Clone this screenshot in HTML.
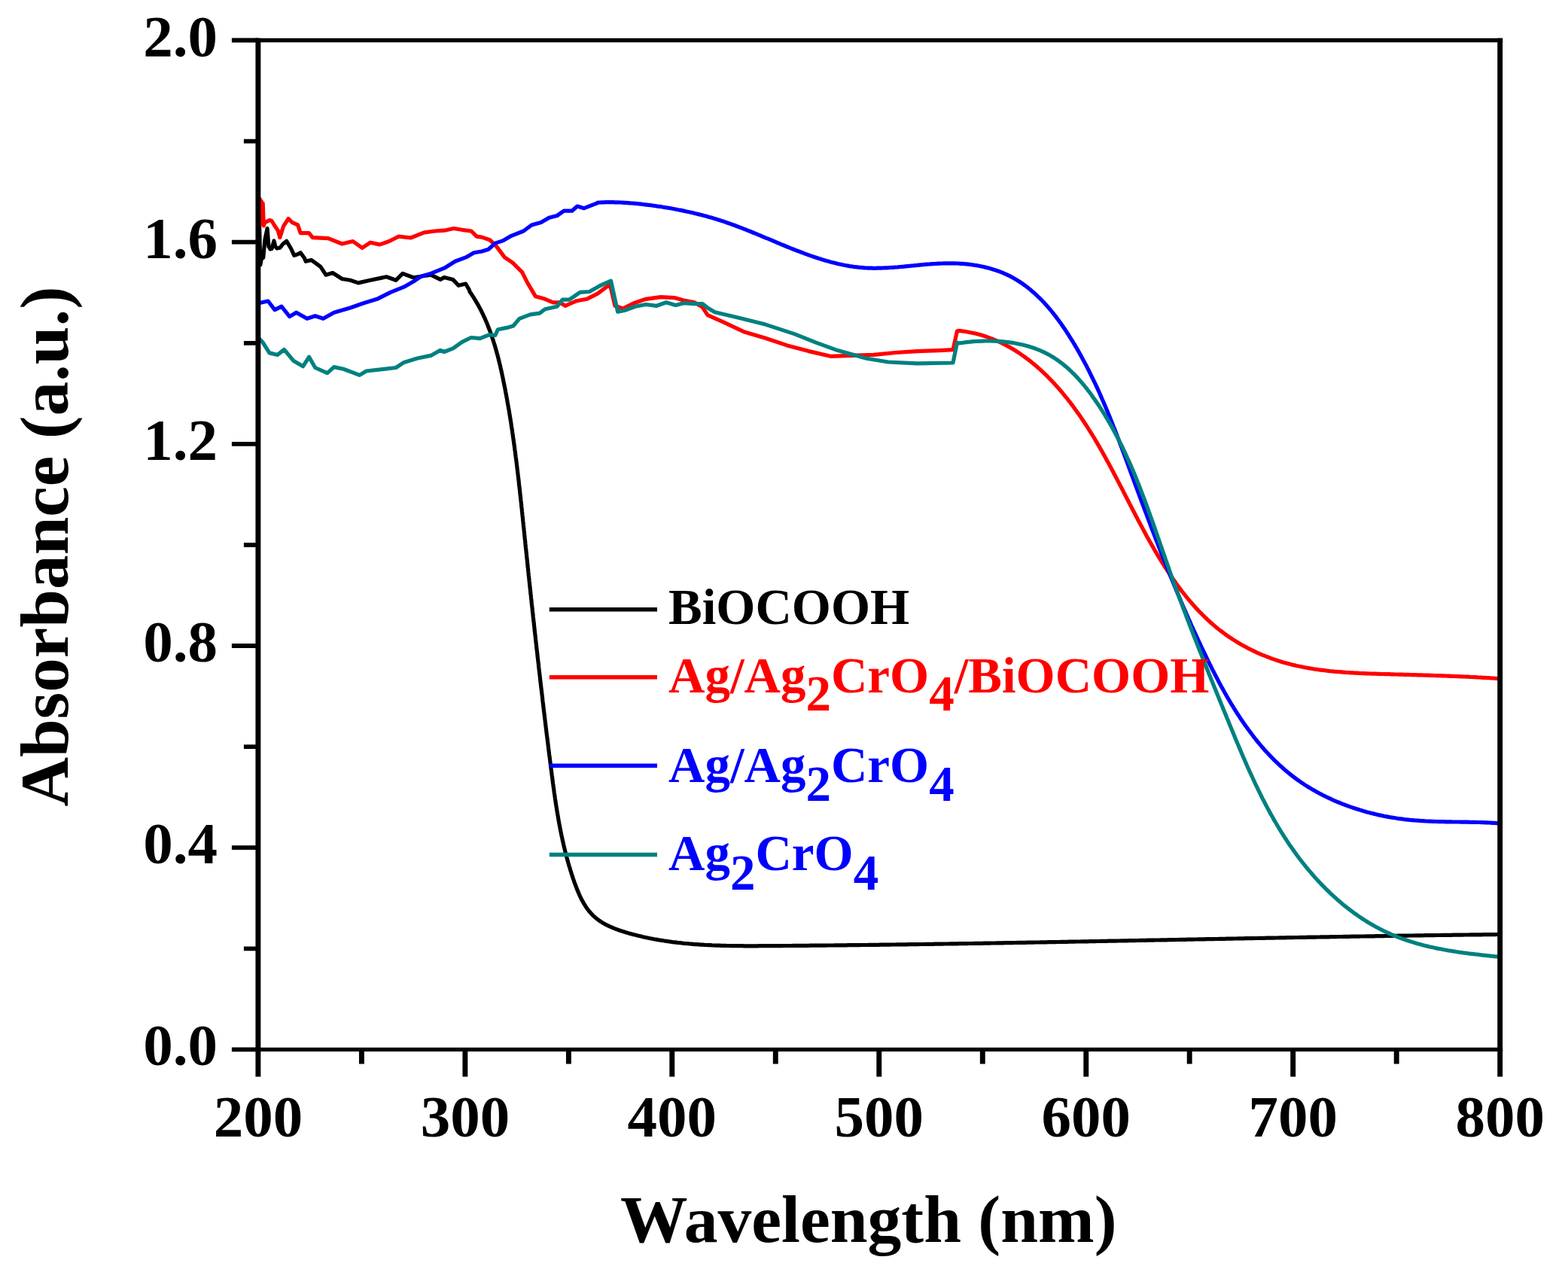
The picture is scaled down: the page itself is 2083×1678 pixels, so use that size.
<!DOCTYPE html>
<html><head><meta charset="utf-8"><title>Absorbance spectra</title>
<style>html,body{margin:0;padding:0;background:#fff;width:2083px;height:1678px;overflow:hidden}svg{display:block}.t{font-family:"Liberation Serif","Times New Roman",serif;font-weight:bold}</style>
</head><body>
<svg width="2083" height="1678" viewBox="0 0 2083 1678">
<rect width="2083" height="1678" fill="#fff"/>
<path d="M343.2,338.0 L343.6,306.0 L344.6,300.0 L345.8,352.0 L347.3,344.0 L349.7,342.4 L352.0,318.0 L355.1,303.6 L356.9,327.5 L359.0,331.0 L361.0,330.5 L364.0,320.0 L365.8,327.5 L368.0,330.0 L371.8,329.3 L376.0,324.0 L380.7,320.3 L386.7,330.5 L390.8,339.4 L395.0,338.0 L399.2,335.8 L404.5,343.0 L406.2,347.3 L413.5,345.4 L418.7,349.1 L425.8,354.4 L433.0,365.2 L441.9,362.5 L454.4,370.5 L465.2,372.3 L475.9,375.9 L492.0,372.3 L513.4,367.8 L525.9,372.3 L534.9,363.4 L549.2,368.7 L572.4,365.2 L585.0,371.4 L590.0,368.6 L601.9,371.6 L609.1,379.3 L618.6,377.0 L623.4,385.3 L624.1,387.7 L625.6,389.8 L627.0,391.9 L628.4,394.0 L629.7,396.1 L631.1,398.3 L632.4,400.5 L633.6,402.6 L634.9,404.8 L636.1,407.0 L637.3,409.2 L638.5,411.4 L639.6,413.7 L640.7,415.9 L641.8,418.2 L642.8,420.4 L643.9,422.7 L644.9,425.0 L645.9,427.3 L646.9,429.5 L647.8,431.9 L648.7,434.2 L649.6,436.5 L650.5,438.8 L651.4,441.1 L652.2,443.5 L653.0,445.8 L653.8,448.2 L654.6,450.6 L655.4,452.9 L656.1,455.3 L656.9,457.7 L657.6,460.1 L658.3,462.5 L659.0,464.9 L659.6,467.3 L660.3,469.7 L661.0,472.1 L661.6,474.5 L662.2,476.9 L662.8,479.4 L663.4,481.8 L664.0,484.2 L664.6,486.6 L665.1,489.1 L665.7,491.5 L666.2,494.0 L666.8,496.4 L667.3,498.9 L667.8,501.3 L668.3,503.8 L668.8,506.2 L669.3,508.7 L669.8,511.1 L670.3,513.6 L670.8,516.0 L671.3,518.5 L671.7,521.0 L672.2,523.4 L672.7,525.9 L673.1,528.3 L673.6,530.8 L674.0,533.3 L674.4,535.7 L674.9,538.2 L675.3,540.7 L675.7,543.1 L676.2,545.6 L676.6,548.1 L677.0,550.6 L677.4,553.0 L677.8,555.5 L678.2,558.0 L678.6,560.4 L679.0,562.9 L679.3,565.4 L679.7,567.9 L680.1,570.3 L680.5,572.8 L680.8,575.3 L681.2,577.8 L681.5,580.3 L681.9,582.7 L682.2,585.2 L682.6,587.7 L682.9,590.2 L683.3,592.7 L683.6,595.2 L683.9,597.6 L684.3,600.1 L684.6,602.6 L684.9,605.1 L685.2,607.6 L685.6,610.1 L685.9,612.5 L686.2,615.0 L686.5,617.5 L686.8,620.0 L687.1,622.5 L687.4,625.0 L687.7,627.5 L688.0,630.0 L688.3,632.5 L688.6,634.9 L688.9,637.4 L689.2,639.9 L689.4,642.4 L689.7,644.9 L690.0,647.4 L690.3,649.9 L690.6,652.4 L690.8,654.9 L691.1,657.4 L691.4,659.9 L691.7,662.4 L691.9,664.8 L692.2,667.3 L692.5,669.8 L692.7,672.3 L693.0,674.8 L693.3,677.3 L693.5,679.8 L693.8,682.3 L694.0,684.8 L694.3,687.3 L694.6,689.8 L694.8,692.3 L695.1,694.8 L695.3,697.3 L695.6,699.7 L695.9,702.2 L696.1,704.7 L696.4,707.2 L696.6,709.7 L696.9,712.2 L697.1,714.7 L697.4,717.2 L697.7,719.7 L697.9,722.2 L698.2,724.7 L698.4,727.2 L698.7,729.6 L699.0,732.1 L699.2,734.6 L699.5,737.1 L699.7,739.6 L700.0,742.1 L700.3,744.6 L700.5,747.1 L700.8,749.6 L701.0,752.1 L701.3,754.5 L701.6,757.0 L701.8,759.5 L702.1,762.0 L702.3,764.5 L702.6,767.0 L702.9,769.5 L703.1,772.0 L703.4,774.4 L703.7,776.9 L703.9,779.4 L704.2,781.9 L704.5,784.4 L704.7,786.9 L705.0,789.4 L705.3,791.8 L705.5,794.3 L705.8,796.8 L706.1,799.3 L706.3,801.8 L706.6,804.3 L706.9,806.8 L707.2,809.2 L707.4,811.7 L707.7,814.2 L708.0,816.7 L708.2,819.2 L708.5,821.7 L708.8,824.2 L709.1,826.6 L709.3,829.1 L709.6,831.6 L709.9,834.1 L710.1,836.6 L710.4,839.1 L710.7,841.5 L711.0,844.0 L711.3,846.5 L711.5,849.0 L711.8,851.5 L712.1,854.0 L712.4,856.5 L712.6,858.9 L712.9,861.4 L713.2,863.9 L713.5,866.4 L713.8,868.9 L714.0,871.4 L714.3,873.8 L714.6,876.3 L714.9,878.8 L715.2,881.3 L715.5,883.8 L715.7,886.3 L716.0,888.7 L716.3,891.2 L716.6,893.7 L716.9,896.2 L717.2,898.7 L717.5,901.2 L717.7,903.6 L718.0,906.1 L718.3,908.6 L718.6,911.1 L718.9,913.6 L719.2,916.1 L719.5,918.5 L719.8,921.0 L720.1,923.5 L720.4,926.0 L720.7,928.5 L720.9,931.0 L721.2,933.5 L721.5,935.9 L721.8,938.4 L722.1,940.9 L722.4,943.4 L722.7,945.9 L723.0,948.4 L723.3,950.8 L723.6,953.3 L723.9,955.8 L724.2,958.3 L724.5,960.8 L724.8,963.3 L725.1,965.8 L725.4,968.2 L725.7,970.7 L726.0,973.2 L726.3,975.7 L726.6,978.2 L727.0,980.7 L727.3,983.2 L727.6,985.6 L727.9,988.1 L728.2,990.6 L728.5,993.1 L728.8,995.6 L729.1,998.1 L729.4,1000.6 L729.7,1003.1 L730.1,1005.5 L730.4,1008.0 L730.7,1010.5 L731.0,1013.0 L731.3,1015.5 L731.6,1018.0 L731.9,1020.5 L732.3,1023.0 L732.6,1025.4 L732.9,1027.9 L733.2,1030.4 L733.6,1032.9 L733.9,1035.4 L734.2,1037.9 L734.5,1040.4 L734.9,1042.9 L735.2,1045.4 L735.6,1047.8 L735.9,1050.3 L736.2,1052.8 L736.6,1055.3 L737.0,1057.8 L737.3,1060.3 L737.7,1062.8 L738.1,1065.2 L738.4,1067.7 L738.8,1070.2 L739.2,1072.7 L739.6,1075.2 L740.0,1077.6 L740.4,1080.1 L740.8,1082.6 L741.3,1085.1 L741.7,1087.6 L742.1,1090.0 L742.6,1092.5 L743.0,1095.0 L743.5,1097.4 L744.0,1099.9 L744.4,1102.4 L744.9,1104.8 L745.4,1107.3 L745.9,1109.8 L746.5,1112.2 L747.0,1114.7 L747.5,1117.2 L748.1,1119.6 L748.6,1122.1 L749.2,1124.5 L749.8,1127.0 L750.4,1129.4 L751.0,1131.9 L751.6,1134.3 L752.3,1136.7 L752.9,1139.2 L753.6,1141.6 L754.2,1144.1 L754.9,1146.5 L755.6,1148.9 L756.3,1151.3 L757.1,1153.8 L757.8,1156.2 L758.6,1158.6 L759.3,1161.0 L760.1,1163.4 L760.9,1165.9 L761.7,1168.3 L762.6,1170.7 L763.4,1173.1 L764.3,1175.5 L765.2,1177.9 L766.1,1180.2 L767.0,1182.6 L768.0,1184.9 L769.0,1187.3 L770.0,1189.6 L771.1,1191.8 L772.2,1194.1 L773.3,1196.3 L774.5,1198.4 L775.7,1200.6 L777.0,1202.6 L778.3,1204.7 L779.7,1206.7 L781.1,1208.6 L782.6,1210.5 L784.1,1212.3 L785.7,1214.1 L787.3,1215.8 L789.0,1217.4 L790.8,1219.0 L792.6,1220.5 L794.5,1221.9 L796.4,1223.3 L798.4,1224.6 L800.4,1225.9 L802.5,1227.1 L804.6,1228.2 L806.8,1229.3 L809.0,1230.4 L811.2,1231.4 L813.5,1232.4 L815.8,1233.4 L818.1,1234.3 L820.4,1235.1 L822.8,1236.0 L825.1,1236.8 L827.5,1237.5 L829.9,1238.3 L832.3,1239.0 L834.8,1239.7 L837.2,1240.4 L839.6,1241.1 L842.1,1241.7 L844.5,1242.3 L846.9,1242.9 L849.4,1243.5 L851.8,1244.1 L854.2,1244.7 L856.7,1245.2 L859.1,1245.7 L861.6,1246.3 L864.0,1246.8 L866.5,1247.2 L868.9,1247.7 L871.4,1248.1 L873.9,1248.6 L876.3,1249.0 L878.8,1249.4 L881.3,1249.8 L883.7,1250.2 L886.2,1250.5 L888.7,1250.9 L891.1,1251.2 L893.6,1251.6 L896.1,1251.9 L898.6,1252.2 L901.0,1252.5 L903.5,1252.7 L906.0,1253.0 L908.5,1253.3 L911.0,1253.5 L913.5,1253.7 L916.0,1254.0 L918.4,1254.2 L920.9,1254.4 L923.4,1254.6 L925.9,1254.7 L928.4,1254.9 L930.9,1255.1 L933.4,1255.2 L935.9,1255.4 L938.4,1255.5 L940.9,1255.6 L943.4,1255.7 L945.9,1255.9 L948.4,1256.0 L950.9,1256.1 L953.4,1256.1 L955.9,1256.2 L958.4,1256.3 L960.9,1256.4 L963.5,1256.4 L966.0,1256.5 L968.5,1256.5 L971.0,1256.6 L973.5,1256.6 L976.0,1256.6 L978.5,1256.7 L981.0,1256.7 L983.5,1256.7 L986.1,1256.7 L988.6,1256.8 L991.1,1256.8 L993.6,1256.8 L996.1,1256.8 L998.6,1256.8 L1001.1,1256.8 L1003.7,1256.8 L1006.2,1256.8 L1008.7,1256.7 L1011.2,1256.7 L1013.7,1256.7 L1016.2,1256.7 L1018.7,1256.7 L1021.3,1256.7 L1023.8,1256.7 L1026.3,1256.6 L1028.8,1256.6 L1031.3,1256.6 L1033.8,1256.6 L1036.3,1256.6 L1038.9,1256.6 L1041.4,1256.5 L1043.9,1256.5 L1046.4,1256.5 L1048.9,1256.5 L1051.4,1256.5 L1053.9,1256.4 L1056.5,1256.4 L1059.0,1256.4 L1061.5,1256.4 L1064.0,1256.4 L1066.5,1256.3 L1069.0,1256.3 L1071.5,1256.3 L1074.0,1256.3 L1076.6,1256.2 L1079.1,1256.2 L1081.6,1256.2 L1084.1,1256.2 L1086.6,1256.2 L1089.1,1256.1 L1091.6,1256.1 L1094.1,1256.1 L1096.6,1256.1 L1099.2,1256.0 L1101.7,1256.0 L1104.2,1256.0 L1106.7,1256.0 L1109.2,1255.9 L1111.7,1255.9 L1114.2,1255.9 L1116.7,1255.8 L1119.2,1255.8 L1121.8,1255.8 L1124.3,1255.8 L1126.8,1255.7 L1129.3,1255.7 L1131.8,1255.7 L1134.3,1255.7 L1136.8,1255.6 L1139.3,1255.6 L1141.8,1255.6 L1144.3,1255.5 L1146.8,1255.5 L1149.4,1255.5 L1151.9,1255.5 L1154.4,1255.4 L1156.9,1255.4 L1159.4,1255.4 L1161.9,1255.3 L1164.4,1255.3 L1166.9,1255.3 L1169.4,1255.2 L1171.9,1255.2 L1174.4,1255.2 L1176.9,1255.1 L1179.4,1255.1 L1182.0,1255.1 L1184.5,1255.0 L1187.0,1255.0 L1189.5,1255.0 L1192.0,1254.9 L1194.5,1254.9 L1197.0,1254.9 L1199.5,1254.8 L1202.0,1254.8 L1204.5,1254.8 L1207.0,1254.7 L1209.5,1254.7 L1212.0,1254.7 L1214.5,1254.6 L1217.0,1254.6 L1219.5,1254.6 L1222.1,1254.5 L1224.6,1254.5 L1227.1,1254.5 L1229.6,1254.4 L1232.1,1254.4 L1234.6,1254.3 L1237.1,1254.3 L1239.6,1254.3 L1242.1,1254.2 L1244.6,1254.2 L1247.1,1254.2 L1249.6,1254.1 L1252.1,1254.1 L1254.6,1254.0 L1257.1,1254.0 L1259.6,1254.0 L1262.1,1253.9 L1264.6,1253.9 L1267.1,1253.9 L1269.6,1253.8 L1272.1,1253.8 L1274.7,1253.7 L1277.2,1253.7 L1279.7,1253.7 L1282.2,1253.6 L1284.7,1253.6 L1287.2,1253.5 L1289.7,1253.5 L1292.2,1253.5 L1294.7,1253.4 L1297.2,1253.4 L1299.7,1253.3 L1302.2,1253.3 L1304.7,1253.3 L1307.2,1253.2 L1309.7,1253.2 L1312.2,1253.1 L1314.7,1253.1 L1317.2,1253.0 L1319.7,1253.0 L1322.2,1253.0 L1324.7,1252.9 L1327.2,1252.9 L1329.7,1252.8 L1332.2,1252.8 L1334.7,1252.7 L1337.2,1252.7 L1339.7,1252.7 L1342.2,1252.6 L1344.7,1252.6 L1347.2,1252.5 L1349.7,1252.5 L1352.2,1252.4 L1354.7,1252.4 L1357.2,1252.4 L1359.7,1252.3 L1362.2,1252.3 L1364.7,1252.2 L1367.3,1252.2 L1369.8,1252.1 L1372.3,1252.1 L1374.8,1252.0 L1377.3,1252.0 L1379.8,1252.0 L1382.3,1251.9 L1384.8,1251.9 L1387.3,1251.8 L1389.8,1251.8 L1392.3,1251.7 L1394.8,1251.7 L1397.3,1251.6 L1399.8,1251.6 L1402.3,1251.6 L1404.8,1251.5 L1407.3,1251.5 L1409.8,1251.4 L1412.3,1251.4 L1414.8,1251.3 L1417.3,1251.3 L1419.8,1251.2 L1422.3,1251.2 L1424.8,1251.1 L1427.3,1251.1 L1429.8,1251.0 L1432.3,1251.0 L1434.8,1251.0 L1437.3,1250.9 L1439.8,1250.9 L1442.3,1250.8 L1444.8,1250.8 L1447.3,1250.7 L1449.8,1250.7 L1452.3,1250.6 L1454.8,1250.6 L1457.3,1250.5 L1459.8,1250.5 L1462.3,1250.4 L1464.8,1250.4 L1467.3,1250.3 L1469.8,1250.3 L1472.3,1250.2 L1474.8,1250.2 L1477.3,1250.2 L1479.8,1250.1 L1482.3,1250.1 L1484.8,1250.0 L1487.3,1250.0 L1489.8,1249.9 L1492.3,1249.9 L1494.8,1249.8 L1497.3,1249.8 L1499.8,1249.7 L1502.3,1249.7 L1504.8,1249.6 L1507.3,1249.6 L1509.8,1249.5 L1512.3,1249.5 L1514.8,1249.4 L1517.3,1249.4 L1519.8,1249.3 L1522.3,1249.3 L1524.8,1249.2 L1527.3,1249.2 L1529.8,1249.1 L1532.3,1249.1 L1534.8,1249.0 L1537.3,1249.0 L1539.8,1249.0 L1542.3,1248.9 L1544.8,1248.9 L1547.3,1248.8 L1549.8,1248.8 L1552.3,1248.7 L1554.8,1248.7 L1557.3,1248.6 L1559.8,1248.6 L1562.3,1248.5 L1564.8,1248.5 L1567.3,1248.4 L1569.8,1248.4 L1572.3,1248.3 L1574.8,1248.3 L1577.3,1248.2 L1579.8,1248.2 L1582.3,1248.1 L1584.8,1248.1 L1587.3,1248.0 L1589.8,1248.0 L1592.3,1247.9 L1594.8,1247.9 L1597.3,1247.8 L1599.8,1247.8 L1602.3,1247.7 L1604.8,1247.7 L1607.3,1247.7 L1609.8,1247.6 L1612.3,1247.6 L1614.8,1247.5 L1617.3,1247.5 L1619.8,1247.4 L1622.3,1247.4 L1624.8,1247.3 L1627.3,1247.3 L1629.8,1247.2 L1632.3,1247.2 L1634.8,1247.1 L1637.3,1247.1 L1639.8,1247.0 L1642.3,1247.0 L1644.8,1246.9 L1647.3,1246.9 L1649.8,1246.8 L1652.3,1246.8 L1654.8,1246.7 L1657.3,1246.7 L1659.8,1246.7 L1662.3,1246.6 L1664.8,1246.6 L1667.3,1246.5 L1669.8,1246.5 L1672.4,1246.4 L1674.9,1246.4 L1677.4,1246.3 L1679.9,1246.3 L1682.4,1246.2 L1684.9,1246.2 L1687.4,1246.1 L1689.9,1246.1 L1692.4,1246.1 L1694.9,1246.0 L1697.4,1246.0 L1699.9,1245.9 L1702.4,1245.9 L1704.9,1245.8 L1707.4,1245.8 L1709.9,1245.7 L1712.4,1245.7 L1714.9,1245.6 L1717.4,1245.6 L1719.9,1245.5 L1722.4,1245.5 L1724.9,1245.5 L1727.4,1245.4 L1729.9,1245.4 L1732.4,1245.3 L1734.9,1245.3 L1737.4,1245.2 L1739.9,1245.2 L1742.4,1245.1 L1744.9,1245.1 L1747.4,1245.1 L1749.9,1245.0 L1752.4,1245.0 L1754.9,1244.9 L1757.4,1244.9 L1759.9,1244.8 L1762.5,1244.8 L1765.0,1244.8 L1767.5,1244.7 L1770.0,1244.7 L1772.5,1244.6 L1775.0,1244.6 L1777.5,1244.5 L1780.0,1244.5 L1782.5,1244.5 L1785.0,1244.4 L1787.5,1244.4 L1790.0,1244.3 L1792.5,1244.3 L1795.0,1244.2 L1797.5,1244.2 L1800.0,1244.2 L1802.5,1244.1 L1805.0,1244.1 L1807.5,1244.0 L1810.0,1244.0 L1812.5,1244.0 L1815.1,1243.9 L1817.6,1243.9 L1820.1,1243.8 L1822.6,1243.8 L1825.1,1243.8 L1827.6,1243.7 L1830.1,1243.7 L1832.6,1243.6 L1835.1,1243.6 L1837.6,1243.6 L1840.1,1243.5 L1842.6,1243.5 L1845.1,1243.4 L1847.6,1243.4 L1850.1,1243.4 L1852.7,1243.3 L1855.2,1243.3 L1857.7,1243.2 L1860.2,1243.2 L1862.7,1243.2 L1865.2,1243.1 L1867.7,1243.1 L1870.2,1243.1 L1872.7,1243.0 L1875.2,1243.0 L1877.7,1243.0 L1880.2,1242.9 L1882.7,1242.9 L1885.3,1242.8 L1887.8,1242.8 L1890.3,1242.8 L1892.8,1242.7 L1895.3,1242.7 L1897.8,1242.7 L1900.3,1242.6 L1902.8,1242.6 L1905.3,1242.6 L1907.8,1242.5 L1910.3,1242.5 L1912.9,1242.5 L1915.4,1242.4 L1917.9,1242.4 L1920.4,1242.4 L1922.9,1242.3 L1925.4,1242.3 L1927.9,1242.3 L1930.4,1242.2 L1932.9,1242.2 L1935.5,1242.2 L1938.0,1242.1 L1940.5,1242.1 L1943.0,1242.1 L1945.5,1242.0 L1948.0,1242.0 L1950.5,1242.0 L1953.0,1241.9 L1955.5,1241.9 L1958.1,1241.9 L1960.6,1241.9 L1963.1,1241.8 L1965.6,1241.8 L1968.1,1241.8 L1970.6,1241.7 L1973.1,1241.7 L1975.6,1241.7 L1978.2,1241.7 L1980.7,1241.6 L1983.2,1241.6 L1985.7,1241.6 L1988.2,1241.5 L1990.7,1241.5" fill="none" stroke="#000000" stroke-width="5.2" stroke-linejoin="round" stroke-linecap="round"/>
<path d="M343.5,262.0 L344.3,300.0 L345.2,264.0 L346.2,298.0 L347.2,267.0 L348.2,292.0 L349.2,270.0 L350.3,300.0 L351.3,296.0 L353.9,294.7 L358.0,292.5 L361.0,293.5 L364.6,299.5 L369.4,306.6 L371.8,315.6 L376.5,300.7 L383.1,290.5 L387.8,295.3 L395.6,298.9 L399.2,309.6 L410.5,309.6 L415.3,315.6 L436.0,316.7 L454.4,324.0 L468.7,320.5 L481.2,329.4 L492.0,322.2 L504.5,324.9 L517.0,320.5 L529.5,314.2 L545.6,316.0 L563.5,308.8 L577.8,307.0 L590.3,306.2 L602.8,303.5 L613.6,305.3 L626.1,307.0 L633.2,314.2 L640.0,315.1 L650.7,318.7 L659.7,327.6 L670.4,341.9 L681.1,349.1 L693.6,361.6 L700.8,375.9 L711.5,393.8 L724.0,397.3 L734.8,401.8 L743.7,401.8 L750.9,406.3 L765.2,400.0 L779.5,397.3 L793.8,390.2 L808.1,379.5 L810.5,378.5 L817.0,406.3 L827.7,409.9 L842.0,402.7 L858.1,397.3 L877.8,394.7 L895.7,395.6 L908.2,399.1 L922.5,401.8 L933.2,408.1 L940.0,418.6 L959.2,427.2 L988.0,440.7 L1016.8,449.3 L1045.6,458.9 L1074.4,466.6 L1103.2,473.3 L1132.0,472.4 L1160.8,471.4 L1189.6,468.5 L1218.4,466.6 L1247.3,465.6 L1266.0,464.7 L1271.5,439.7 L1273.6,439.4 L1276.2,439.7 L1278.8,440.0 L1281.4,440.4 L1284.0,440.8 L1286.5,441.2 L1289.0,441.7 L1291.5,442.2 L1294.0,442.7 L1296.5,443.3 L1299.0,443.9 L1301.4,444.6 L1303.8,445.3 L1306.3,446.0 L1308.7,446.8 L1311.0,447.6 L1313.4,448.4 L1315.7,449.3 L1318.1,450.2 L1320.4,451.1 L1322.7,452.1 L1325.0,453.1 L1327.2,454.1 L1329.5,455.2 L1331.7,456.2 L1334.0,457.4 L1336.2,458.5 L1338.3,459.7 L1340.5,460.9 L1342.7,462.1 L1344.8,463.4 L1347.0,464.6 L1349.1,466.0 L1351.2,467.3 L1353.3,468.7 L1355.3,470.0 L1357.4,471.5 L1359.4,472.9 L1361.4,474.3 L1363.4,475.8 L1365.4,477.3 L1367.4,478.9 L1369.4,480.4 L1371.3,482.0 L1373.3,483.6 L1375.2,485.2 L1377.1,486.8 L1379.0,488.5 L1380.8,490.1 L1382.7,491.8 L1384.5,493.5 L1386.4,495.2 L1388.2,497.0 L1390.0,498.7 L1391.8,500.5 L1393.6,502.3 L1395.3,504.1 L1397.1,505.9 L1398.8,507.7 L1400.5,509.6 L1402.2,511.5 L1403.9,513.3 L1405.6,515.2 L1407.2,517.1 L1408.9,519.0 L1410.5,520.9 L1412.1,522.9 L1413.7,524.8 L1415.3,526.8 L1416.9,528.7 L1418.5,530.7 L1420.0,532.7 L1421.6,534.7 L1423.1,536.6 L1424.6,538.6 L1426.1,540.7 L1427.6,542.7 L1429.0,544.7 L1430.5,546.7 L1431.9,548.8 L1433.4,550.8 L1434.8,552.8 L1436.2,554.9 L1437.6,557.0 L1439.0,559.0 L1440.4,561.1 L1441.8,563.2 L1443.1,565.3 L1444.5,567.4 L1445.8,569.5 L1447.1,571.6 L1448.5,573.7 L1449.8,575.8 L1451.1,577.9 L1452.4,580.0 L1453.7,582.1 L1454.9,584.3 L1456.2,586.4 L1457.5,588.6 L1458.7,590.7 L1460.0,592.9 L1461.2,595.0 L1462.4,597.2 L1463.7,599.3 L1464.9,601.5 L1466.1,603.7 L1467.3,605.8 L1468.5,608.0 L1469.7,610.2 L1470.9,612.4 L1472.1,614.6 L1473.3,616.8 L1474.5,619.0 L1475.7,621.2 L1476.8,623.4 L1478.0,625.6 L1479.2,627.8 L1480.3,630.0 L1481.5,632.2 L1482.7,634.4 L1483.8,636.6 L1485.0,638.9 L1486.1,641.1 L1487.3,643.3 L1488.4,645.5 L1489.6,647.7 L1490.7,650.0 L1491.9,652.2 L1493.0,654.4 L1494.2,656.7 L1495.3,658.9 L1496.5,661.1 L1497.6,663.4 L1498.8,665.6 L1499.9,667.8 L1501.1,670.1 L1502.2,672.3 L1503.4,674.5 L1504.5,676.8 L1505.7,679.0 L1506.9,681.2 L1508.0,683.5 L1509.2,685.7 L1510.4,687.9 L1511.5,690.2 L1512.7,692.4 L1513.9,694.6 L1515.1,696.9 L1516.3,699.1 L1517.5,701.3 L1518.7,703.6 L1519.9,705.8 L1521.1,708.0 L1522.3,710.2 L1523.5,712.5 L1524.8,714.7 L1526.0,716.9 L1527.2,719.1 L1528.5,721.3 L1529.7,723.5 L1531.0,725.8 L1532.3,728.0 L1533.5,730.2 L1534.8,732.4 L1536.1,734.5 L1537.4,736.7 L1538.7,738.9 L1540.0,741.1 L1541.4,743.3 L1542.7,745.4 L1544.0,747.6 L1545.4,749.7 L1546.7,751.9 L1548.1,754.0 L1549.5,756.2 L1550.9,758.3 L1552.3,760.4 L1553.7,762.5 L1555.1,764.6 L1556.5,766.7 L1558.0,768.8 L1559.4,770.9 L1560.9,772.9 L1562.3,775.0 L1563.8,777.0 L1565.3,779.1 L1566.8,781.1 L1568.3,783.1 L1569.8,785.1 L1571.4,787.1 L1572.9,789.0 L1574.5,791.0 L1576.0,793.0 L1577.6,794.9 L1579.2,796.8 L1580.8,798.7 L1582.5,800.6 L1584.1,802.5 L1585.7,804.4 L1587.4,806.2 L1589.1,808.1 L1590.8,809.9 L1592.5,811.7 L1594.2,813.5 L1595.9,815.2 L1597.7,817.0 L1599.4,818.7 L1601.2,820.5 L1603.0,822.2 L1604.8,823.9 L1606.6,825.5 L1608.4,827.2 L1610.3,828.8 L1612.2,830.4 L1614.0,832.0 L1615.9,833.6 L1617.9,835.2 L1619.8,836.7 L1621.7,838.2 L1623.7,839.7 L1625.7,841.2 L1627.7,842.6 L1629.7,844.1 L1631.7,845.5 L1633.8,846.9 L1635.8,848.2 L1637.9,849.6 L1640.0,850.9 L1642.1,852.2 L1644.2,853.5 L1646.3,854.8 L1648.4,856.0 L1650.6,857.2 L1652.8,858.4 L1654.9,859.6 L1657.1,860.8 L1659.3,861.9 L1661.5,863.0 L1663.8,864.1 L1666.0,865.2 L1668.3,866.3 L1670.5,867.3 L1672.8,868.3 L1675.1,869.3 L1677.4,870.3 L1679.7,871.2 L1682.0,872.1 L1684.3,873.0 L1686.6,873.9 L1688.9,874.8 L1691.3,875.6 L1693.6,876.4 L1696.0,877.2 L1698.4,878.0 L1700.7,878.7 L1703.1,879.5 L1705.5,880.2 L1707.9,880.8 L1710.3,881.5 L1712.7,882.1 L1715.1,882.8 L1717.6,883.4 L1720.0,883.9 L1722.4,884.5 L1724.9,885.0 L1727.3,885.5 L1729.8,886.0 L1732.2,886.5 L1734.7,887.0 L1737.1,887.4 L1739.6,887.9 L1742.1,888.3 L1744.6,888.7 L1747.1,889.1 L1749.5,889.4 L1752.0,889.8 L1754.5,890.1 L1757.0,890.4 L1759.5,890.7 L1762.0,891.0 L1764.5,891.3 L1767.1,891.6 L1769.6,891.8 L1772.1,892.1 L1774.6,892.3 L1777.1,892.5 L1779.7,892.7 L1782.2,892.9 L1784.7,893.1 L1787.2,893.3 L1789.8,893.5 L1792.3,893.6 L1794.8,893.8 L1797.4,893.9 L1799.9,894.1 L1802.5,894.2 L1805.0,894.3 L1807.5,894.5 L1810.1,894.6 L1812.6,894.7 L1815.1,894.8 L1817.7,894.9 L1820.2,895.0 L1822.7,895.1 L1825.3,895.1 L1827.8,895.2 L1830.4,895.3 L1832.9,895.4 L1835.4,895.5 L1837.9,895.5 L1840.5,895.6 L1843.0,895.7 L1845.5,895.7 L1848.0,895.8 L1850.6,895.9 L1853.1,896.0 L1855.6,896.0 L1858.1,896.1 L1860.6,896.2 L1863.1,896.2 L1865.6,896.3 L1868.1,896.4 L1870.6,896.4 L1873.2,896.5 L1875.7,896.6 L1878.2,896.7 L1880.7,896.7 L1883.2,896.8 L1885.7,896.9 L1888.2,896.9 L1890.6,897.0 L1893.1,897.1 L1895.6,897.2 L1898.1,897.2 L1900.6,897.3 L1903.1,897.4 L1905.6,897.5 L1908.1,897.6 L1910.6,897.7 L1913.1,897.7 L1915.6,897.8 L1918.0,897.9 L1920.5,898.0 L1923.0,898.1 L1925.5,898.2 L1928.0,898.3 L1930.5,898.4 L1933.0,898.5 L1935.5,898.6 L1937.9,898.7 L1940.4,898.8 L1942.9,898.9 L1945.4,899.0 L1947.9,899.1 L1950.4,899.2 L1952.9,899.4 L1955.4,899.5 L1957.9,899.6 L1960.3,899.7 L1962.8,899.9 L1965.3,900.0 L1967.8,900.1 L1970.3,900.3 L1972.8,900.4 L1975.3,900.6 L1977.8,900.7 L1980.3,900.9 L1982.8,901.0 L1985.3,901.2 L1987.8,901.3 L1990.3,901.5" fill="none" stroke="#ff0000" stroke-width="5.2" stroke-linejoin="round" stroke-linecap="round"/>
<path d="M343.6,402.7 L356.1,400.0 L365.0,411.6 L374.0,407.2 L384.7,420.6 L393.6,415.2 L407.9,423.3 L418.7,419.7 L429.4,423.3 L443.7,415.2 L465.2,409.0 L483.0,402.7 L500.9,397.3 L518.8,388.4 L536.7,381.2 L549.2,374.1 L559.9,366.9 L572.4,363.4 L590.3,356.2 L604.6,347.3 L618.9,341.9 L629.6,335.7 L640.0,334.0 L648.9,331.2 L657.9,323.1 L668.6,319.6 L679.3,313.3 L695.4,307.0 L706.2,299.0 L718.7,295.4 L729.4,289.2 L740.1,286.5 L749.1,280.2 L759.8,280.2 L766.9,274.0 L775.9,276.7 L792.0,270.4 L794.5,269.1 L797.0,269.0 L799.5,268.9 L802.0,268.8 L804.5,268.7 L807.0,268.7 L809.5,268.7 L811.9,268.7 L814.4,268.7 L816.9,268.8 L819.4,268.8 L821.9,268.9 L824.4,269.0 L826.9,269.1 L829.4,269.3 L831.9,269.4 L834.4,269.6 L836.9,269.8 L839.3,270.0 L841.8,270.2 L844.3,270.4 L846.8,270.7 L849.3,270.9 L851.7,271.2 L854.2,271.5 L856.7,271.8 L859.2,272.1 L861.7,272.4 L864.1,272.7 L866.6,273.0 L869.1,273.4 L871.5,273.7 L874.0,274.1 L876.5,274.4 L878.9,274.8 L881.4,275.2 L883.8,275.6 L886.3,276.0 L888.8,276.4 L891.2,276.8 L893.7,277.3 L896.1,277.7 L898.6,278.2 L901.0,278.7 L903.4,279.1 L905.9,279.6 L908.3,280.1 L910.8,280.7 L913.2,281.2 L915.6,281.7 L918.1,282.3 L920.5,282.8 L922.9,283.4 L925.3,284.0 L927.8,284.6 L930.2,285.2 L932.6,285.8 L935.0,286.5 L937.4,287.1 L939.8,287.8 L942.2,288.5 L944.6,289.1 L947.0,289.8 L949.4,290.6 L951.8,291.3 L954.2,292.0 L956.6,292.8 L959.0,293.6 L961.4,294.3 L963.8,295.1 L966.1,296.0 L968.5,296.8 L970.9,297.6 L973.2,298.5 L975.6,299.3 L978.0,300.2 L980.3,301.1 L982.7,302.0 L985.1,302.9 L987.4,303.8 L989.8,304.7 L992.1,305.7 L994.5,306.6 L996.8,307.5 L999.2,308.5 L1001.5,309.5 L1003.9,310.4 L1006.2,311.4 L1008.5,312.4 L1010.9,313.3 L1013.2,314.3 L1015.6,315.3 L1017.9,316.3 L1020.2,317.2 L1022.6,318.2 L1024.9,319.2 L1027.2,320.2 L1029.6,321.2 L1031.9,322.2 L1034.3,323.1 L1036.6,324.1 L1038.9,325.1 L1041.3,326.0 L1043.6,327.0 L1045.9,328.0 L1048.3,328.9 L1050.6,329.8 L1052.9,330.8 L1055.3,331.7 L1057.6,332.6 L1060.0,333.5 L1062.3,334.4 L1064.7,335.3 L1067.0,336.2 L1069.3,337.1 L1071.7,337.9 L1074.0,338.8 L1076.4,339.6 L1078.7,340.4 L1081.1,341.3 L1083.5,342.0 L1085.8,342.8 L1088.2,343.6 L1090.5,344.3 L1092.9,345.1 L1095.3,345.8 L1097.6,346.5 L1100.0,347.1 L1102.4,347.8 L1104.8,348.4 L1107.2,349.0 L1109.5,349.6 L1111.9,350.2 L1114.3,350.8 L1116.7,351.3 L1119.1,351.8 L1121.5,352.3 L1123.9,352.7 L1126.3,353.1 L1128.8,353.6 L1131.2,353.9 L1133.6,354.3 L1136.0,354.6 L1138.4,354.9 L1140.9,355.2 L1143.3,355.4 L1145.8,355.6 L1148.2,355.8 L1150.7,356.0 L1153.1,356.1 L1155.6,356.2 L1158.1,356.2 L1160.5,356.3 L1163.0,356.3 L1165.5,356.2 L1168.0,356.2 L1170.5,356.1 L1173.0,356.0 L1175.5,355.9 L1178.0,355.8 L1180.5,355.7 L1183.0,355.5 L1185.5,355.3 L1188.0,355.2 L1190.5,355.0 L1193.0,354.8 L1195.5,354.5 L1198.1,354.3 L1200.6,354.1 L1203.1,353.8 L1205.7,353.6 L1208.2,353.4 L1210.7,353.1 L1213.3,352.9 L1215.8,352.6 L1218.3,352.4 L1220.9,352.1 L1223.4,351.9 L1226.0,351.7 L1228.5,351.4 L1231.0,351.2 L1233.6,351.0 L1236.1,350.8 L1238.7,350.6 L1241.2,350.5 L1243.8,350.3 L1246.3,350.2 L1248.9,350.1 L1251.4,350.0 L1253.9,349.9 L1256.5,349.8 L1259.0,349.8 L1261.6,349.8 L1264.1,349.8 L1266.6,349.8 L1269.2,349.9 L1271.7,350.0 L1274.3,350.1 L1276.8,350.3 L1279.3,350.4 L1281.8,350.7 L1284.3,350.9 L1286.9,351.2 L1289.4,351.5 L1291.9,351.8 L1294.3,352.2 L1296.8,352.6 L1299.3,353.0 L1301.8,353.5 L1304.2,354.0 L1306.6,354.5 L1309.1,355.1 L1311.5,355.7 L1313.9,356.3 L1316.3,357.0 L1318.6,357.7 L1321.0,358.4 L1323.3,359.2 L1325.6,360.0 L1327.9,360.8 L1330.2,361.7 L1332.5,362.7 L1334.7,363.6 L1336.9,364.6 L1339.1,365.6 L1341.3,366.7 L1343.5,367.8 L1345.6,369.0 L1347.7,370.2 L1349.8,371.4 L1351.9,372.7 L1353.9,374.0 L1356.0,375.3 L1358.0,376.7 L1359.9,378.1 L1361.9,379.5 L1363.9,381.0 L1365.8,382.5 L1367.7,384.0 L1369.6,385.6 L1371.4,387.2 L1373.3,388.8 L1375.1,390.4 L1376.9,392.1 L1378.7,393.8 L1380.5,395.5 L1382.2,397.2 L1384.0,399.0 L1385.7,400.8 L1387.4,402.6 L1389.1,404.5 L1390.8,406.3 L1392.4,408.2 L1394.0,410.1 L1395.7,412.0 L1397.3,414.0 L1398.8,415.9 L1400.4,417.9 L1402.0,419.9 L1403.5,421.9 L1405.0,424.0 L1406.5,426.0 L1408.0,428.0 L1409.5,430.1 L1411.0,432.2 L1412.4,434.3 L1413.9,436.4 L1415.3,438.5 L1416.7,440.6 L1418.1,442.8 L1419.5,444.9 L1420.8,447.1 L1422.2,449.2 L1423.5,451.4 L1424.9,453.5 L1426.2,455.7 L1427.5,457.9 L1428.8,460.1 L1430.1,462.3 L1431.3,464.4 L1432.6,466.6 L1433.8,468.8 L1435.1,471.1 L1436.3,473.3 L1437.5,475.5 L1438.7,477.7 L1439.9,479.9 L1441.1,482.1 L1442.3,484.4 L1443.5,486.6 L1444.6,488.8 L1445.8,491.1 L1446.9,493.3 L1448.0,495.6 L1449.1,497.8 L1450.2,500.1 L1451.3,502.3 L1452.4,504.6 L1453.5,506.9 L1454.6,509.1 L1455.7,511.4 L1456.7,513.7 L1457.8,515.9 L1458.8,518.2 L1459.9,520.5 L1460.9,522.8 L1461.9,525.1 L1462.9,527.4 L1463.9,529.7 L1464.9,532.0 L1465.9,534.3 L1466.9,536.6 L1467.9,538.9 L1468.9,541.2 L1469.8,543.5 L1470.8,545.8 L1471.8,548.1 L1472.7,550.4 L1473.7,552.7 L1474.6,555.0 L1475.5,557.4 L1476.5,559.7 L1477.4,562.0 L1478.3,564.3 L1479.2,566.7 L1480.2,569.0 L1481.1,571.3 L1482.0,573.6 L1482.9,576.0 L1483.8,578.3 L1484.7,580.6 L1485.6,583.0 L1486.5,585.3 L1487.3,587.6 L1488.2,590.0 L1489.1,592.3 L1490.0,594.6 L1490.9,597.0 L1491.7,599.3 L1492.6,601.7 L1493.5,604.0 L1494.4,606.3 L1495.2,608.7 L1496.1,611.0 L1497.0,613.4 L1497.8,615.7 L1498.7,618.0 L1499.5,620.4 L1500.4,622.7 L1501.3,625.1 L1502.1,627.4 L1503.0,629.7 L1503.9,632.1 L1504.7,634.4 L1505.6,636.7 L1506.4,639.1 L1507.3,641.4 L1508.2,643.8 L1509.0,646.1 L1509.9,648.4 L1510.8,650.8 L1511.6,653.1 L1512.5,655.4 L1513.4,657.8 L1514.2,660.1 L1515.1,662.4 L1516.0,664.8 L1516.8,667.1 L1517.7,669.4 L1518.6,671.8 L1519.5,674.1 L1520.3,676.4 L1521.2,678.8 L1522.1,681.1 L1523.0,683.4 L1523.8,685.7 L1524.7,688.1 L1525.6,690.4 L1526.5,692.7 L1527.4,695.0 L1528.2,697.4 L1529.1,699.7 L1530.0,702.0 L1530.9,704.3 L1531.8,706.7 L1532.7,709.0 L1533.6,711.3 L1534.5,713.6 L1535.4,716.0 L1536.3,718.3 L1537.2,720.6 L1538.1,722.9 L1539.0,725.2 L1539.9,727.6 L1540.8,729.9 L1541.7,732.2 L1542.6,734.5 L1543.5,736.8 L1544.4,739.2 L1545.3,741.5 L1546.3,743.8 L1547.2,746.1 L1548.1,748.4 L1549.0,750.7 L1549.9,753.1 L1550.9,755.4 L1551.8,757.7 L1552.7,760.0 L1553.7,762.3 L1554.6,764.6 L1555.6,766.9 L1556.5,769.2 L1557.5,771.6 L1558.4,773.9 L1559.4,776.2 L1560.3,778.5 L1561.3,780.8 L1562.2,783.1 L1563.2,785.4 L1564.2,787.7 L1565.1,790.0 L1566.1,792.3 L1567.1,794.6 L1568.1,796.9 L1569.0,799.2 L1570.0,801.5 L1571.0,803.9 L1572.0,806.2 L1573.0,808.5 L1574.0,810.8 L1575.0,813.1 L1576.0,815.4 L1577.0,817.7 L1578.0,820.0 L1579.0,822.3 L1580.1,824.6 L1581.1,826.9 L1582.1,829.2 L1583.1,831.5 L1584.2,833.8 L1585.2,836.1 L1586.3,838.3 L1587.3,840.6 L1588.4,842.9 L1589.4,845.2 L1590.5,847.5 L1591.5,849.8 L1592.6,852.1 L1593.7,854.4 L1594.7,856.7 L1595.8,859.0 L1596.9,861.3 L1598.0,863.6 L1599.1,865.9 L1600.2,868.2 L1601.3,870.4 L1602.4,872.7 L1603.5,875.0 L1604.6,877.3 L1605.7,879.6 L1606.8,881.9 L1608.0,884.1 L1609.1,886.4 L1610.2,888.7 L1611.4,890.9 L1612.6,893.2 L1613.7,895.5 L1614.9,897.7 L1616.1,900.0 L1617.2,902.2 L1618.4,904.5 L1619.6,906.7 L1620.8,909.0 L1622.0,911.2 L1623.2,913.4 L1624.5,915.6 L1625.7,917.9 L1626.9,920.1 L1628.2,922.3 L1629.4,924.5 L1630.7,926.7 L1632.0,928.8 L1633.3,931.0 L1634.5,933.2 L1635.8,935.4 L1637.2,937.5 L1638.5,939.7 L1639.8,941.8 L1641.1,943.9 L1642.5,946.1 L1643.8,948.2 L1645.2,950.3 L1646.6,952.4 L1647.9,954.5 L1649.3,956.6 L1650.7,958.6 L1652.2,960.7 L1653.6,962.7 L1655.0,964.8 L1656.5,966.8 L1657.9,968.8 L1659.4,970.8 L1660.9,972.8 L1662.4,974.8 L1663.9,976.8 L1665.4,978.8 L1666.9,980.7 L1668.5,982.6 L1670.0,984.6 L1671.6,986.5 L1673.2,988.4 L1674.8,990.3 L1676.4,992.2 L1678.0,994.0 L1679.6,995.9 L1681.2,997.7 L1682.9,999.5 L1684.6,1001.3 L1686.3,1003.1 L1688.0,1004.9 L1689.7,1006.7 L1691.4,1008.4 L1693.1,1010.1 L1694.9,1011.8 L1696.7,1013.5 L1698.4,1015.2 L1700.2,1016.9 L1702.1,1018.5 L1703.9,1020.2 L1705.7,1021.8 L1707.6,1023.4 L1709.5,1025.0 L1711.4,1026.6 L1713.3,1028.1 L1715.2,1029.6 L1717.1,1031.1 L1719.1,1032.6 L1721.1,1034.1 L1723.0,1035.6 L1725.0,1037.0 L1727.1,1038.4 L1729.1,1039.8 L1731.2,1041.2 L1733.2,1042.6 L1735.3,1043.9 L1737.4,1045.2 L1739.5,1046.5 L1741.7,1047.8 L1743.8,1049.1 L1746.0,1050.3 L1748.2,1051.6 L1750.4,1052.8 L1752.6,1054.0 L1754.8,1055.1 L1757.0,1056.3 L1759.3,1057.4 L1761.5,1058.5 L1763.8,1059.6 L1766.1,1060.7 L1768.3,1061.7 L1770.6,1062.8 L1773.0,1063.8 L1775.3,1064.8 L1777.6,1065.8 L1780.0,1066.7 L1782.3,1067.7 L1784.7,1068.6 L1787.0,1069.5 L1789.4,1070.4 L1791.8,1071.3 L1794.2,1072.1 L1796.6,1072.9 L1799.0,1073.7 L1801.4,1074.5 L1803.8,1075.3 L1806.3,1076.1 L1808.7,1076.8 L1811.2,1077.5 L1813.6,1078.2 L1816.1,1078.9 L1818.5,1079.5 L1821.0,1080.2 L1823.4,1080.8 L1825.9,1081.4 L1828.4,1082.0 L1830.9,1082.6 L1833.3,1083.1 L1835.8,1083.6 L1838.3,1084.2 L1840.8,1084.6 L1843.3,1085.1 L1845.8,1085.6 L1848.3,1086.0 L1850.8,1086.4 L1853.3,1086.8 L1855.8,1087.2 L1858.3,1087.6 L1860.8,1087.9 L1863.3,1088.2 L1865.7,1088.6 L1868.2,1088.8 L1870.7,1089.1 L1873.2,1089.4 L1875.7,1089.6 L1878.2,1089.8 L1880.7,1090.0 L1883.2,1090.2 L1885.7,1090.4 L1888.1,1090.6 L1890.6,1090.7 L1893.1,1090.9 L1895.6,1091.0 L1898.1,1091.1 L1900.6,1091.2 L1903.0,1091.3 L1905.5,1091.4 L1908.0,1091.5 L1910.5,1091.6 L1913.0,1091.6 L1915.5,1091.7 L1917.9,1091.7 L1920.4,1091.8 L1922.9,1091.8 L1925.4,1091.9 L1927.9,1091.9 L1930.4,1092.0 L1932.8,1092.0 L1935.3,1092.0 L1937.8,1092.0 L1940.3,1092.1 L1942.8,1092.1 L1945.3,1092.1 L1947.8,1092.2 L1950.3,1092.2 L1952.8,1092.3 L1955.3,1092.3 L1957.8,1092.4 L1960.3,1092.4 L1962.8,1092.5 L1965.3,1092.5 L1967.8,1092.6 L1970.3,1092.7 L1972.8,1092.8 L1975.3,1092.9 L1977.8,1093.0 L1980.3,1093.1 L1982.9,1093.3 L1985.4,1093.4 L1987.9,1093.6 L1990.4,1093.7" fill="none" stroke="#0000ff" stroke-width="5.2" stroke-linejoin="round" stroke-linecap="round"/>
<path d="M343.6,449.2 L348.9,454.6 L357.9,468.9 L368.6,471.5 L377.5,464.4 L390.1,479.6 L402.6,486.7 L410.6,474.2 L418.7,488.5 L434.8,495.7 L443.7,487.6 L456.2,490.3 L477.7,498.4 L486.6,493.0 L509.9,490.3 L525.9,488.5 L536.7,481.4 L554.6,476.0 L572.4,472.4 L585.0,465.3 L590.0,467.5 L601.9,462.8 L613.8,454.4 L625.8,448.5 L637.7,449.7 L649.6,444.9 L657.9,445.5 L661.5,437.7 L673.4,435.4 L681.8,433.0 L690.0,423.4 L704.4,417.9 L716.9,416.1 L724.0,410.7 L740.1,407.2 L747.3,398.2 L756.2,398.2 L770.5,388.4 L783.0,387.5 L797.3,379.5 L811.6,373.2 L820.6,414.3 L829.5,412.5 L843.8,407.2 L858.1,404.5 L872.4,406.3 L884.9,401.8 L897.5,405.4 L908.2,402.7 L922.5,403.6 L933.2,403.6 L940.0,409.0 L949.6,414.7 L978.4,421.5 L1016.8,431.1 L1055.2,443.6 L1084.0,455.1 L1112.8,465.6 L1151.2,476.2 L1180.0,481.0 L1218.4,482.9 L1266.0,482.0 L1271.5,455.1 L1273.7,456.0 L1276.2,455.7 L1278.7,455.3 L1281.2,455.0 L1283.7,454.7 L1286.2,454.4 L1288.7,454.2 L1291.2,453.9 L1293.7,453.7 L1296.3,453.5 L1298.8,453.4 L1301.4,453.3 L1303.9,453.1 L1306.5,453.1 L1309.0,453.0 L1311.6,453.0 L1314.1,453.0 L1316.7,453.0 L1319.2,453.1 L1321.8,453.2 L1324.3,453.3 L1326.9,453.4 L1329.4,453.6 L1332.0,453.8 L1334.5,454.1 L1337.0,454.4 L1339.6,454.7 L1342.1,455.0 L1344.6,455.4 L1347.1,455.8 L1349.6,456.2 L1352.0,456.7 L1354.5,457.2 L1356.9,457.7 L1359.4,458.3 L1361.8,458.9 L1364.2,459.6 L1366.6,460.3 L1369.0,461.0 L1371.3,461.7 L1373.7,462.5 L1376.0,463.4 L1378.3,464.3 L1380.6,465.2 L1382.8,466.1 L1385.1,467.1 L1387.3,468.2 L1389.5,469.3 L1391.7,470.4 L1393.8,471.5 L1395.9,472.7 L1398.0,474.0 L1400.1,475.3 L1402.1,476.6 L1404.2,478.0 L1406.2,479.4 L1408.1,480.8 L1410.1,482.3 L1412.0,483.8 L1413.9,485.4 L1415.8,486.9 L1417.7,488.5 L1419.5,490.2 L1421.3,491.8 L1423.1,493.5 L1424.9,495.3 L1426.7,497.0 L1428.4,498.8 L1430.1,500.6 L1431.8,502.4 L1433.5,504.3 L1435.1,506.2 L1436.8,508.0 L1438.4,510.0 L1440.0,511.9 L1441.6,513.8 L1443.2,515.8 L1444.7,517.8 L1446.3,519.8 L1447.8,521.8 L1449.3,523.8 L1450.8,525.9 L1452.2,527.9 L1453.7,530.0 L1455.1,532.1 L1456.6,534.1 L1458.0,536.2 L1459.4,538.3 L1460.8,540.4 L1462.1,542.5 L1463.5,544.6 L1464.8,546.8 L1466.2,548.9 L1467.5,551.0 L1468.8,553.2 L1470.1,555.3 L1471.4,557.5 L1472.6,559.6 L1473.9,561.8 L1475.1,563.9 L1476.4,566.1 L1477.6,568.3 L1478.8,570.5 L1480.0,572.7 L1481.2,574.9 L1482.3,577.1 L1483.5,579.3 L1484.7,581.5 L1485.8,583.7 L1486.9,586.0 L1488.1,588.2 L1489.2,590.4 L1490.3,592.7 L1491.4,594.9 L1492.4,597.2 L1493.5,599.4 L1494.6,601.7 L1495.6,604.0 L1496.7,606.2 L1497.7,608.5 L1498.8,610.8 L1499.8,613.1 L1500.8,615.3 L1501.8,617.6 L1502.8,619.9 L1503.8,622.2 L1504.8,624.5 L1505.7,626.8 L1506.7,629.1 L1507.7,631.4 L1508.6,633.8 L1509.6,636.1 L1510.5,638.4 L1511.5,640.7 L1512.4,643.0 L1513.3,645.4 L1514.2,647.7 L1515.1,650.0 L1516.0,652.4 L1516.9,654.7 L1517.8,657.1 L1518.7,659.4 L1519.6,661.7 L1520.5,664.1 L1521.4,666.4 L1522.2,668.8 L1523.1,671.2 L1524.0,673.5 L1524.8,675.9 L1525.7,678.2 L1526.5,680.6 L1527.4,683.0 L1528.2,685.3 L1529.1,687.7 L1529.9,690.1 L1530.8,692.4 L1531.6,694.8 L1532.4,697.2 L1533.3,699.5 L1534.1,701.9 L1534.9,704.3 L1535.8,706.7 L1536.6,709.0 L1537.4,711.4 L1538.2,713.8 L1539.1,716.2 L1539.9,718.5 L1540.7,720.9 L1541.5,723.3 L1542.4,725.7 L1543.2,728.0 L1544.0,730.4 L1544.8,732.8 L1545.6,735.1 L1546.5,737.5 L1547.3,739.9 L1548.1,742.3 L1548.9,744.6 L1549.8,747.0 L1550.6,749.4 L1551.4,751.7 L1552.3,754.1 L1553.1,756.5 L1553.9,758.8 L1554.8,761.2 L1555.6,763.6 L1556.5,765.9 L1557.3,768.3 L1558.1,770.6 L1559.0,773.0 L1559.8,775.4 L1560.7,777.7 L1561.6,780.1 L1562.4,782.4 L1563.3,784.8 L1564.1,787.1 L1565.0,789.5 L1565.9,791.8 L1566.7,794.1 L1567.6,796.5 L1568.5,798.8 L1569.4,801.2 L1570.2,803.5 L1571.1,805.9 L1572.0,808.2 L1572.9,810.5 L1573.8,812.9 L1574.7,815.2 L1575.5,817.5 L1576.4,819.9 L1577.3,822.2 L1578.2,824.5 L1579.1,826.9 L1580.0,829.2 L1580.9,831.5 L1581.8,833.9 L1582.7,836.2 L1583.6,838.5 L1584.5,840.9 L1585.4,843.2 L1586.3,845.5 L1587.2,847.8 L1588.2,850.2 L1589.1,852.5 L1590.0,854.8 L1590.9,857.1 L1591.8,859.5 L1592.7,861.8 L1593.6,864.1 L1594.6,866.4 L1595.5,868.7 L1596.4,871.1 L1597.3,873.4 L1598.3,875.7 L1599.2,878.0 L1600.1,880.3 L1601.0,882.7 L1602.0,885.0 L1602.9,887.3 L1603.8,889.6 L1604.8,891.9 L1605.7,894.2 L1606.6,896.6 L1607.6,898.9 L1608.5,901.2 L1609.4,903.5 L1610.4,905.8 L1611.3,908.2 L1612.3,910.5 L1613.2,912.8 L1614.1,915.1 L1615.1,917.4 L1616.0,919.7 L1617.0,922.1 L1617.9,924.4 L1618.9,926.7 L1619.8,929.0 L1620.7,931.3 L1621.7,933.6 L1622.6,936.0 L1623.6,938.3 L1624.5,940.6 L1625.5,942.9 L1626.4,945.2 L1627.4,947.5 L1628.3,949.9 L1629.3,952.2 L1630.2,954.5 L1631.2,956.8 L1632.1,959.1 L1633.1,961.5 L1634.0,963.8 L1635.0,966.1 L1635.9,968.4 L1636.9,970.8 L1637.9,973.1 L1638.8,975.4 L1639.8,977.7 L1640.7,980.0 L1641.7,982.4 L1642.7,984.7 L1643.6,987.0 L1644.6,989.3 L1645.6,991.6 L1646.6,993.9 L1647.5,996.2 L1648.5,998.6 L1649.5,1000.9 L1650.5,1003.2 L1651.5,1005.5 L1652.5,1007.8 L1653.5,1010.1 L1654.5,1012.4 L1655.5,1014.7 L1656.5,1017.0 L1657.5,1019.3 L1658.6,1021.6 L1659.6,1023.8 L1660.6,1026.1 L1661.7,1028.4 L1662.7,1030.7 L1663.8,1033.0 L1664.8,1035.3 L1665.9,1037.5 L1666.9,1039.8 L1668.0,1042.1 L1669.1,1044.3 L1670.2,1046.6 L1671.3,1048.8 L1672.4,1051.1 L1673.5,1053.3 L1674.6,1055.6 L1675.7,1057.8 L1676.8,1060.1 L1677.9,1062.3 L1679.1,1064.5 L1680.2,1066.7 L1681.4,1069.0 L1682.6,1071.2 L1683.7,1073.4 L1684.9,1075.6 L1686.1,1077.8 L1687.3,1080.0 L1688.5,1082.2 L1689.7,1084.3 L1691.0,1086.5 L1692.2,1088.7 L1693.4,1090.9 L1694.7,1093.0 L1696.0,1095.2 L1697.2,1097.3 L1698.5,1099.5 L1699.8,1101.6 L1701.1,1103.8 L1702.4,1105.9 L1703.8,1108.0 L1705.1,1110.1 L1706.4,1112.2 L1707.8,1114.3 L1709.2,1116.4 L1710.5,1118.5 L1711.9,1120.6 L1713.3,1122.7 L1714.8,1124.7 L1716.2,1126.8 L1717.6,1128.8 L1719.1,1130.9 L1720.6,1132.9 L1722.0,1135.0 L1723.5,1137.0 L1725.0,1139.0 L1726.5,1141.0 L1728.1,1143.0 L1729.6,1145.0 L1731.2,1147.0 L1732.7,1148.9 L1734.3,1150.9 L1735.9,1152.8 L1737.5,1154.8 L1739.1,1156.7 L1740.7,1158.6 L1742.4,1160.5 L1744.0,1162.4 L1745.7,1164.3 L1747.3,1166.2 L1749.0,1168.0 L1750.7,1169.9 L1752.4,1171.7 L1754.1,1173.5 L1755.9,1175.4 L1757.6,1177.2 L1759.4,1178.9 L1761.1,1180.7 L1762.9,1182.5 L1764.7,1184.2 L1766.5,1186.0 L1768.3,1187.7 L1770.2,1189.4 L1772.0,1191.1 L1773.9,1192.7 L1775.7,1194.4 L1777.6,1196.1 L1779.5,1197.7 L1781.4,1199.3 L1783.3,1200.9 L1785.2,1202.5 L1787.2,1204.1 L1789.1,1205.6 L1791.1,1207.1 L1793.0,1208.7 L1795.0,1210.2 L1797.0,1211.6 L1799.0,1213.1 L1801.0,1214.5 L1803.1,1216.0 L1805.1,1217.4 L1807.2,1218.8 L1809.2,1220.2 L1811.3,1221.5 L1813.4,1222.9 L1815.5,1224.2 L1817.6,1225.5 L1819.7,1226.7 L1821.9,1228.0 L1824.0,1229.2 L1826.2,1230.5 L1828.4,1231.7 L1830.5,1232.8 L1832.7,1234.0 L1834.9,1235.1 L1837.2,1236.3 L1839.4,1237.3 L1841.6,1238.4 L1843.9,1239.5 L1846.2,1240.5 L1848.4,1241.5 L1850.7,1242.5 L1853.0,1243.4 L1855.4,1244.4 L1857.7,1245.3 L1860.0,1246.2 L1862.4,1247.1 L1864.7,1247.9 L1867.1,1248.7 L1869.5,1249.5 L1871.9,1250.3 L1874.2,1251.1 L1876.7,1251.8 L1879.1,1252.5 L1881.5,1253.3 L1883.9,1253.9 L1886.4,1254.6 L1888.8,1255.3 L1891.2,1255.9 L1893.7,1256.5 L1896.2,1257.1 L1898.6,1257.7 L1901.1,1258.2 L1903.6,1258.8 L1906.1,1259.3 L1908.5,1259.9 L1911.0,1260.4 L1913.5,1260.8 L1916.0,1261.3 L1918.5,1261.8 L1921.0,1262.2 L1923.5,1262.7 L1926.0,1263.1 L1928.5,1263.5 L1931.0,1263.9 L1933.5,1264.3 L1936.0,1264.7 L1938.5,1265.1 L1941.0,1265.4 L1943.5,1265.8 L1946.0,1266.1 L1948.5,1266.4 L1951.0,1266.8 L1953.5,1267.1 L1956.0,1267.4 L1958.5,1267.7 L1961.0,1268.0 L1963.5,1268.2 L1965.9,1268.5 L1968.4,1268.8 L1970.9,1269.1 L1973.3,1269.3 L1975.8,1269.6 L1978.2,1269.8 L1980.7,1270.1 L1983.1,1270.3 L1985.5,1270.6 L1988.0,1270.8 L1990.4,1271.0" fill="none" stroke="#008080" stroke-width="5.2" stroke-linejoin="round" stroke-linecap="round"/>
<path d="M342.9,50.85 V1397.0500000000002 M1992.7,50.85 V1397.0500000000002" stroke="#000" stroke-width="6.9" fill="none"/>
<path d="M339.45,53.5 H1996.15 M339.45,1394.4 H1996.15" stroke="#000" stroke-width="5.3" fill="none"/>
<path d="M307.9,1394.4 H342.9 M323.9,1260.3 H342.9 M307.9,1126.2 H342.9 M323.9,992.1 H342.9 M307.9,858.0 H342.9 M323.9,724.0 H342.9 M307.9,589.9 H342.9 M323.9,455.8 H342.9 M307.9,321.7 H342.9 M323.9,187.6 H342.9 M307.9,53.5 H342.9" stroke="#000" stroke-width="5.8" fill="none"/>
<path d="M342.9,1394.4 V1430.4 M480.4,1394.4 V1413.4 M617.9,1394.4 V1430.4 M755.4,1394.4 V1413.4 M892.8,1394.4 V1430.4 M1030.3,1394.4 V1413.4 M1167.8,1394.4 V1430.4 M1305.3,1394.4 V1413.4 M1442.8,1394.4 V1430.4 M1580.2,1394.4 V1413.4 M1717.7,1394.4 V1430.4 M1855.2,1394.4 V1413.4 M1992.7,1394.4 V1430.4" stroke="#000" stroke-width="6.9" fill="none"/>
<g class="t" font-size="79" fill="#000">
<text x="289" y="1415.4" text-anchor="end">0.0</text>
<text x="289" y="1147.2" text-anchor="end">0.4</text>
<text x="289" y="879.0" text-anchor="end">0.8</text>
<text x="289" y="610.9" text-anchor="end">1.2</text>
<text x="289" y="342.7" text-anchor="end">1.6</text>
<text x="289" y="74.5" text-anchor="end">2.0</text>
<text x="342.9" y="1509.5" text-anchor="middle">200</text>
<text x="617.9" y="1509.5" text-anchor="middle">300</text>
<text x="892.8" y="1509.5" text-anchor="middle">400</text>
<text x="1167.8" y="1509.5" text-anchor="middle">500</text>
<text x="1442.8" y="1509.5" text-anchor="middle">600</text>
<text x="1717.7" y="1509.5" text-anchor="middle">700</text>
<text x="1992.7" y="1509.5" text-anchor="middle">800</text>
</g>
<text x="0" y="0" transform="translate(89.7,1071.8) rotate(-90)" class="t" font-size="91.2" fill="#000">Absorbance (a.u.)</text>
<text x="824" y="1650" class="t" font-size="89.6" fill="#000">Wavelength (nm)</text>
<path d="M729.8,809.8 H873" stroke="#000" stroke-width="5.6"/>
<text x="888" y="829.1" class="t" font-size="67" fill="#000">BiOCOOH</text>
<path d="M729.8,899.8 H873" stroke="#ff0000" stroke-width="5.6"/>
<text x="888" y="919.8" class="t" font-size="67" fill="#ff0000">Ag/Ag<tspan dy="24.5">2</tspan><tspan dy="-24.5">CrO</tspan><tspan dy="24.5">4</tspan><tspan dy="-24.5">/BiOCOOH</tspan></text>
<path d="M729.8,1017.2 H873" stroke="#0000ff" stroke-width="5.6"/>
<text x="888" y="1039.0" class="t" font-size="67" fill="#0000ff">Ag/Ag<tspan dy="24.5">2</tspan><tspan dy="-24.5">CrO</tspan><tspan dy="24.5">4</tspan></text>
<path d="M729.8,1135.5 H873" stroke="#008080" stroke-width="5.6"/>
<text x="888" y="1155.5" class="t" font-size="67" fill="#0000ff">Ag<tspan dy="26">2</tspan><tspan dy="-26">CrO</tspan><tspan dy="26">4</tspan></text>
</svg>
</body></html>
